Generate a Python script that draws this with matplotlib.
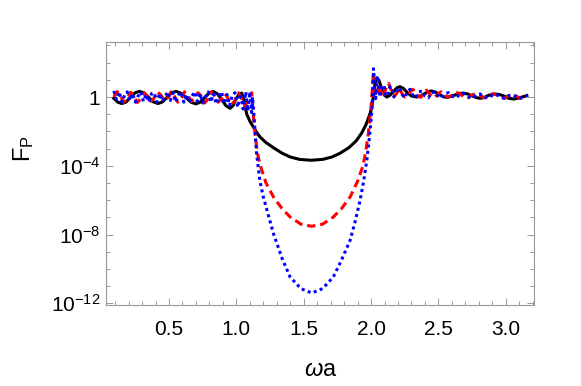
import numpy as np
import matplotlib
matplotlib.use("Agg")
import matplotlib.pyplot as plt

plt.rcParams['font.family'] = ['Liberation Sans', 'DejaVu Sans']
plt.rcParams['mathtext.fontset'] = 'custom'
plt.rcParams['mathtext.rm'] = 'Liberation Sans'
plt.rcParams['mathtext.it'] = 'Liberation Sans:italic'

# black solid curve: omega*a and log10(F_P)
black_x = [0.09, 0.12, 0.149, 0.18, 0.214, 0.247, 0.279, 0.314, 0.348, 0.383,
           0.418, 0.452, 0.485, 0.519, 0.552, 0.589, 0.626, 0.663, 0.70, 0.732,
           0.765, 0.797, 0.829, 0.86, 0.891, 0.922, 0.953, 0.975, 0.997, 1.018,
           1.040, 1.058, 1.077, 1.10, 1.126, 1.15, 1.176, 1.22, 1.275, 1.34,
           1.40, 1.47, 1.555, 1.64, 1.71, 1.77, 1.835, 1.89, 1.93, 1.96,
           1.98, 1.995, 2.006, 2.018, 2.03, 2.043, 2.06, 2.08, 2.10, 2.117,
           2.14, 2.17, 2.195, 2.216, 2.24, 2.27, 2.30, 2.34, 2.37, 2.40,
           2.425, 2.45, 2.48, 2.51, 2.535, 2.563, 2.59, 2.625, 2.655, 2.687,
           2.72, 2.75, 2.78, 2.81, 2.84, 2.87, 2.91, 2.95, 2.99, 3.02,
           3.06, 3.10, 3.157]
black_log = [-0.08, -0.3, -0.38, -0.3, -0.02, 0.24, 0.33, 0.24, -0.02, -0.28,
             -0.38, -0.28, -0.02, 0.24, 0.33, 0.22, -0.04, -0.3, -0.40, -0.3,
             -0.03, 0.22, 0.32, 0.18, -0.15, -0.5, -0.66, -0.5, -0.12, 0.15,
             0.23, -0.25, -1.0, -1.4, -1.74, -2.05, -2.33, -2.65, -2.95, -3.27,
             -3.49, -3.63, -3.68, -3.63, -3.49, -3.27, -2.95, -2.55, -2.1, -1.65,
             -1.25, -0.9, -0.6, 0.1, 0.8, 1.12, 0.95, 0.45, 0.1, 0.0,
             0.1, 0.35, 0.55, 0.6, 0.5, 0.25, 0.06, 0.0, 0.07, 0.2,
             0.32, 0.35, 0.28, 0.13, 0.02, -0.02, 0.03, 0.12, 0.2, 0.23,
             0.17, 0.07, -0.03, -0.08, -0.03, 0.09, 0.18, 0.15, 0.05, -0.07,
             -0.12, -0.05, 0.08]

# red dashed curve
red_x = [0.09, 0.115, 0.14, 0.165, 0.19, 0.215, 0.24, 0.265, 0.29, 0.315,
         0.34, 0.365, 0.39, 0.415, 0.44, 0.465, 0.49, 0.515, 0.54, 0.565,
         0.59, 0.615, 0.64, 0.665, 0.69, 0.715, 0.74, 0.765, 0.79, 0.815,
         0.84, 0.865, 0.89, 0.915, 0.94, 0.965, 0.99, 1.015, 1.04, 1.065,
         1.09, 1.114, 1.125, 1.139, 1.155, 1.176, 1.22, 1.275, 1.34, 1.399,
         1.48, 1.56, 1.64, 1.72, 1.78, 1.845, 1.90, 1.94, 1.96, 1.98,
         1.995, 2.006, 2.018, 2.03, 2.045, 2.06, 2.075, 2.09, 2.11, 2.13,
         2.15, 2.17, 2.19, 2.21, 2.23, 2.25, 2.27, 2.29, 2.31, 2.33,
         2.35, 2.37, 2.39, 2.41, 2.43, 2.45, 2.47, 2.50, 2.52, 2.54,
         2.57, 2.60, 2.63, 2.66, 2.69, 2.72, 2.75, 2.78, 2.81, 2.84,
         2.87, 2.90, 2.93, 2.96, 2.99, 3.02, 3.05, 3.08, 3.11, 3.14,
         3.157]
red_log = [0.0, 0.32, 0.05, -0.30, -0.05, 0.28, 0.02, -0.32, -0.1, 0.25,
           0.05, -0.25, -0.05, 0.3, 0.1, -0.2, -0.05, 0.3, 0.05, -0.3,
           -0.1, 0.3, 0.1, -0.25, -0.05, 0.25, 0.05, -0.35, -0.1, 0.3,
           0.05, -0.3, -0.1, 0.2, -0.1, -0.45, -0.2, 0.25, -0.1, -0.55,
           -0.1, 0.25, -1.0, -2.13, -3.2, -3.95, -5.0, -5.81, -6.5, -6.98,
           -7.4, -7.52, -7.4, -6.98, -6.5, -5.81, -4.9, -4.0, -3.2, -2.13,
           -1.0, 0.0, 1.45, 0.3, 0.05, 0.8, 0.3, 0.0, 0.5, 0.8,
           0.4, 0.05, 0.2, 0.5, 0.2, 0.0, 0.05, 0.3, 0.45, 0.3,
           0.05, -0.02, 0.25, 0.4, 0.25, 0.02, -0.03, 0.2, 0.3, 0.15,
           -0.02, 0.1, 0.28, 0.2, 0.0, -0.05, 0.12, 0.22, 0.1, -0.05,
           0.0, 0.18, 0.15, -0.02, -0.08, 0.05, 0.15, 0.05, -0.08, 0.0,
           0.1]

# blue dotted curve
blue_x = [0.09, 0.11, 0.13, 0.15, 0.17, 0.19, 0.21, 0.23, 0.25, 0.27,
          0.29, 0.31, 0.33, 0.35, 0.37, 0.39, 0.41, 0.43, 0.45, 0.47,
          0.49, 0.51, 0.53, 0.55, 0.57, 0.59, 0.61, 0.63, 0.65, 0.67,
          0.69, 0.71, 0.73, 0.75, 0.77, 0.79, 0.81, 0.83, 0.85, 0.87,
          0.89, 0.91, 0.93, 0.95, 0.97, 0.99, 1.01, 1.03, 1.05, 1.07,
          1.085, 1.10, 1.113, 1.12, 1.13, 1.15, 1.175, 1.2, 1.24, 1.275,
          1.34, 1.399, 1.48, 1.56, 1.64, 1.72, 1.78, 1.845, 1.88, 1.919,
          1.945, 1.97, 1.99, 2.006, 2.018, 2.026, 2.034, 2.042, 2.05, 2.058,
          2.066, 2.08, 2.095, 2.11, 2.125, 2.14, 2.155, 2.17, 2.19, 2.21,
          2.23, 2.25, 2.27, 2.29, 2.31, 2.33, 2.355, 2.38, 2.40, 2.425,
          2.45, 2.475, 2.5, 2.525, 2.55, 2.575, 2.6, 2.63, 2.66, 2.69,
          2.72, 2.75, 2.78, 2.81, 2.84, 2.87, 2.9, 2.93, 2.96, 2.99,
          3.02, 3.05, 3.08, 3.11, 3.14, 3.157]
blue_log = [0.35, -0.15, 0.3, -0.3, 0.1, 0.3, -0.2, 0.2, -0.3, 0.05,
            0.3, -0.25, 0.15, -0.3, 0.2, 0.25, -0.3, 0.2, -0.25, 0.0,
            0.3, -0.2, 0.25, -0.3, 0.1, 0.3, -0.3, 0.15, -0.3, 0.05,
            0.3, -0.25, 0.2, -0.35, 0.0, 0.3, -0.3, 0.2, -0.4, 0.05,
            0.3, -0.4, 0.15, -0.5, 0.1, 0.25, -0.6, 0.2, -0.7, 0.3,
            -0.8, 0.3, -0.9, 0.0, -1.0, -3.3, -4.9, -5.81, -6.95, -7.94,
            -9.4, -10.47, -11.15, -11.4, -11.15, -10.47, -9.5, -8.33, -7.3, -6.0,
            -4.9, -3.6, -2.2, -0.8, 1.65, 0.6, -0.1, 0.9, 1.2, 0.5,
            0.0, 0.6, 0.7, 0.1, 0.05, 0.6, 0.55, 0.0, 0.35, 0.55,
            0.15, -0.05, 0.3, 0.45, 0.1, -0.05, 0.3, 0.35, 0.05, -0.05,
            0.25, 0.3, 0.05, -0.05, 0.2, 0.25, 0.05, -0.05, 0.15, 0.2,
            0.02, -0.06, 0.12, 0.18, 0.0, -0.06, 0.1, 0.15, 0.0, -0.07,
            0.08, 0.12, 0.0, -0.06, 0.05, 0.08]

xticks = [0.5, 1.0, 1.5, 2.0, 2.5, 3.0]
yticks = [1e-12, 1e-8, 1e-4, 1]
ytick_labels = ['10$^{\u221212}$', '10$^{\u22128}$', '10$^{\u22124}$', '1']

fig = plt.figure(figsize=(5.81, 3.86), dpi=100)
ax = fig.add_axes([106/581, 1-305/386, 428/581, 263/386])

ax.plot(black_x, 10.0**np.array(black_log), color='black', lw=2.2)
ax.plot(red_x, 10.0**np.array(red_log), color='#ff0000', lw=2.2,
        dashes=(2.7, 1.6))
ax.plot(blue_x, 10.0**np.array(blue_log), color='#0000ff', lw=2.2,
        dashes=(1.0, 1.1))

ax.set_yscale('log')
ax.set_xlim(0.032, 3.21)
ax.set_ylim(10**-12.1, 10**3.2)

ax.set_xticks(xticks)
ax.set_xticklabels(['%.1f' % v for v in xticks])
ax.set_xticks(np.arange(1, 33) / 10.0, minor=True)
ax.set_yticks(yticks)
ax.set_yticklabels(ytick_labels)
ax.set_yticks([10.0**k for k in range(-12, 4)], minor=True)
ax.yaxis.set_minor_formatter(matplotlib.ticker.NullFormatter())

for s in ax.spines.values():
    s.set_color('#999999')
    s.set_linewidth(0.8)
ax.tick_params(which='both', direction='in', top=True, right=True,
               color='#999999', width=0.7, labelsize=15)
ax.tick_params(which='major', length=5)
ax.tick_params(which='minor', length=2.8)
ax.tick_params(axis='x', pad=11)
ax.tick_params(axis='y', pad=4)

fig.text(321/581, 1-370/386, r'$\mathit{\omega}$a', fontsize=17,
         ha='center', va='center')
fig.text(24/581, 1-149/386, 'F$_\\mathrm{P}$', fontsize=17, rotation=90,
         ha='center', va='center')

fig.savefig('out.png', dpi=100)
